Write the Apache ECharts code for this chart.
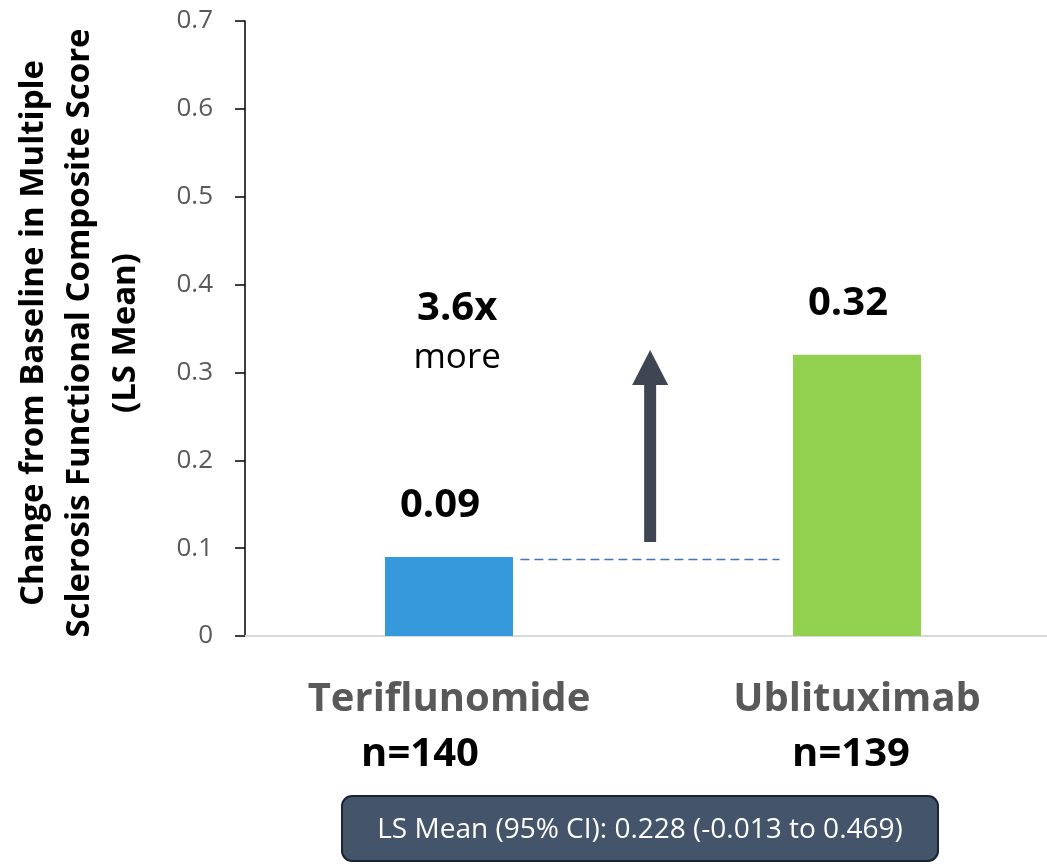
<!DOCTYPE html>
<html>
<head>
<meta charset="utf-8">
<script src="https://cdn.jsdelivr.net/npm/echarts@6/dist/echarts.min.js"></script>
<style>
html,body{margin:0;padding:0;background:#fff;}
#chart{width:1047px;height:864px;}
</style>
</head>
<body>
<div id="chart"></div>
<script>
// ---- data ----
const categories = ['Teriflunomide', 'Ublituximab'];
const nLabels = ['n=140', 'n=139'];
const lsMean = [0.09, 0.32];
const barLabels = ['0.09', '0.32'];
const barColors = ['#3599DB', '#92D050'];
const yMin = 0, yMax = 0.7, yInterval = 0.1;
// reference (dashed) line at Teriflunomide level, in hidden band-axis units (0..2)
const refLine = [[0.675, 0.087], [1.31, 0.087]];
// arrow: [x, from, to]
const arrowData = [[0.993, 0.107, 0.3255]];
// annotation text: [x, y, text]
const annotations = [[0.52, 0.373, '3.6x'], [0.52, 0.316, 'more']];
const yTitle = 'Change from Baseline in Multiple\nSclerosis Functional Composite Score\n(LS Mean)';
const ciText = 'LS Mean (95% CI): 0.228 (-0.013 to 0.469)';

const FONT = '"Open Sans", "DejaVu Sans", sans-serif';
const chart = echarts.init(document.getElementById('chart'));

const option = {
  animation: false,
  backgroundColor: '#ffffff',
  grid: { left: 245, width: 816, top: 21, bottom: 228, outerBoundsMode: 'none', containLabel: false },
  xAxis: [
    {
      type: 'category',
      data: categories,
      axisLine: { lineStyle: { color: '#D9D9D9', width: 2 } },
      axisTick: { show: false },
      axisLabel: {
        margin: 36,
        interval: 0,
        formatter: (v, i) => `{cat|${v}}\n{n${i}|${nLabels[i]}}`,
        rich: {
          cat: { fontFamily: FONT, fontSize: 40, fontWeight: 'bold', color: '#595959', lineHeight: 55 },
          n0: { fontFamily: FONT, fontSize: 40, fontWeight: 'bold', color: '#000', lineHeight: 55, padding: [0, 58, 0, 0] },
          n1: { fontFamily: FONT, fontSize: 40, fontWeight: 'bold', color: '#000', lineHeight: 55, padding: [0, 12, 0, 0] }
        }
      }
    },
    { type: 'value', min: 0, max: 2, show: false }
  ],
  yAxis: {
    type: 'value',
    min: yMin, max: yMax, interval: yInterval,
    axisLine: { show: true, lineStyle: { color: '#000', width: 1.5 } },
    axisTick: { show: true, length: 10, lineStyle: { color: '#000', width: 1.5 } },
    splitLine: { show: false },
    axisLabel: { margin: 32, fontFamily: FONT, fontSize: 26, color: '#595959', formatter: v => String(+v.toFixed(1)) }
  },
  series: [
    {
      type: 'bar',
      data: lsMean.map((v, i) => ({ value: v, itemStyle: { color: barColors[i] } })),
      barWidth: 128,
      label: {
        show: true, position: 'top', distance: 31, offset: [-9, 0],
        formatter: p => barLabels[p.dataIndex],
        fontFamily: FONT, fontSize: 40, fontWeight: 'bold', color: '#000'
      },
      silent: true
    },
    {
      type: 'line',
      xAxisIndex: 1,
      data: refLine,
      symbol: 'none',
      lineStyle: { color: '#4472C4', width: 1.5, type: [9, 5] },
      silent: true,
      z: 3
    },
    {
      type: 'custom',
      xAxisIndex: 1,
      data: arrowData,
      silent: true,
      renderItem: (params, api) => {
        const x = api.value(0);
        const p0 = api.coord([x, api.value(1)]);
        const p1 = api.coord([x, api.value(2)]);
        const headH = 35, headW = 36, shaftW = 12;
        return {
          type: 'group',
          children: [
            { type: 'rect', shape: { x: p0[0] - shaftW / 2, y: p1[1] + headH - 1, width: shaftW, height: p0[1] - p1[1] - headH + 1 }, style: { fill: '#3F4553' } },
            { type: 'polygon', shape: { points: [[p1[0], p1[1]], [p1[0] - headW / 2, p1[1] + headH], [p1[0] + headW / 2, p1[1] + headH]] }, style: { fill: '#3F4553' } }
          ]
        };
      }
    },
    {
      type: 'custom',
      xAxisIndex: 1,
      data: annotations,
      silent: true,
      renderItem: (params, api) => {
        const p = api.coord([api.value(0), api.value(1)]);
        const t = annotations[params.dataIndex][2];
        const bold = params.dataIndex === 0;
        return {
          type: 'text', x: p[0], y: p[1],
          style: {
            text: t, fill: '#000', align: 'center', verticalAlign: 'middle',
            font: (bold ? 'bold 40px ' : '35px ') + FONT
          }
        };
      }
    }
  ],
  graphic: [
    {
      type: 'text', x: 80, y: 333, rotation: Math.PI / 2,
      style: {
        text: yTitle, fill: '#000', align: 'center', verticalAlign: 'middle',
        font: 'bold 33px ' + FONT, lineHeight: 46
      }
    },
    {
      type: 'rect', shape: { x: 342, y: 796, width: 596, height: 65, r: 10 },
      style: { fill: '#44546A', stroke: '#1B2330', lineWidth: 2 }
    },
    {
      type: 'text', x: 640, y: 830,
      style: { text: ciText, fill: '#fff', align: 'center', verticalAlign: 'middle', font: '28px ' + FONT }
    }
  ]
};
chart.setOption(option);
</script>
</body>
</html>
